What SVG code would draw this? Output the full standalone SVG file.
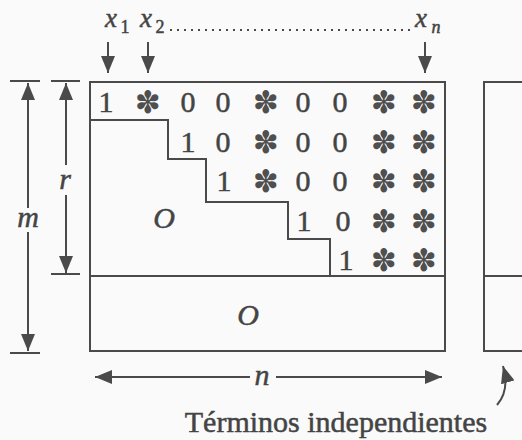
<svg xmlns="http://www.w3.org/2000/svg" width="522" height="440" viewBox="0 0 522 440">
<defs>
<style>
.ln{stroke:#4a4a4a;stroke-width:2;fill:none}
.t{font-family:"Liberation Serif","Times New Roman",serif;fill:#444;stroke:#444;stroke-width:0.5;font-size:30px;text-anchor:middle}
.it{font-style:italic}
.ast{font-family:"DejaVu Sans",sans-serif;fill:#4f4f4f;font-size:31px;text-anchor:middle}
.sub{font-size:18px}
</style>
<marker id="ah" markerUnits="userSpaceOnUse" markerWidth="18" markerHeight="14" refX="17" refY="7" orient="auto">
<path d="M0,0 L17,7 L0,14 Z" fill="#4a4a4a"/>
</marker>
</defs>
<rect width="522" height="440" fill="#fafafa"/>

<g id="matrix">
<rect class="ln" x="90" y="82" width="355" height="269"/>
<line class="ln" x1="90" y1="276" x2="445" y2="276"/>
<polyline class="ln" points="90,120 168,120 168,159 206,159 206,202 288,202 288,239 330,239 330,276"/>
<g class="t">
<text x="106" y="112">1</text><text x="188" y="112">0</text><text x="223" y="112">0</text><text x="303" y="112">0</text><text x="340" y="112">0</text>
<text x="188" y="152">1</text><text x="223" y="152">0</text><text x="303" y="152">0</text><text x="340" y="152">0</text>
<text x="224" y="191">1</text><text x="303" y="191">0</text><text x="340" y="191">0</text>
<text x="304" y="231">1</text><text x="343" y="231">0</text>
<text x="346" y="270">1</text>
<text class="it" x="164" y="228">O</text>
<text class="it" x="248" y="325">O</text>
</g>
<g class="ast">
<text x="148" y="113">✽</text><text x="266" y="113">✽</text><text x="384" y="113">✽</text><text x="424" y="113">✽</text>
<text x="266" y="153">✽</text><text x="384" y="153">✽</text><text x="424" y="153">✽</text>
<text x="266" y="192">✽</text><text x="384" y="192">✽</text><text x="424" y="192">✽</text>
<text x="384" y="232">✽</text><text x="424" y="232">✽</text>
<text x="384" y="271">✽</text><text x="424" y="271">✽</text>
</g>
</g>

<g id="rhs">
<polyline class="ln" points="524,82 484,82 484,351 524,351"/>
<line class="ln" x1="484" y1="276" x2="524" y2="276"/>
</g>

<g id="col-labels" class="t it" style="font-size:27px">
<text x="111" y="27">x</text><text class="sub" style="font-style:normal" x="125" y="33">1</text>
<text x="146" y="27">x</text><text class="sub" style="font-style:normal" x="160" y="33">2</text>
<text x="421" y="27">x</text><text class="sub" x="436" y="33">n</text>
</g>

<g id="dim-labels" class="t it">
<text x="28" y="227">m</text>
<text x="65" y="189">r</text>
<text x="262" y="385">n</text>
</g>

<text id="caption" class="t" x="336" y="432">Términos independientes</text>

<g id="connectors">
<line class="ln" x1="170" y1="30" x2="412" y2="30" stroke-dasharray="2 5"/>
<line class="ln" x1="108" y1="42" x2="108" y2="73" marker-end="url(#ah)"/>
<line class="ln" x1="148" y1="42" x2="148" y2="73" marker-end="url(#ah)"/>
<line class="ln" x1="425" y1="42" x2="425" y2="73" marker-end="url(#ah)"/>
<line class="ln" x1="10" y1="81" x2="40" y2="81"/>
<line class="ln" x1="51" y1="81" x2="80" y2="81"/>
<line class="ln" x1="51" y1="274" x2="80" y2="274"/>
<line class="ln" x1="10" y1="353" x2="40" y2="353"/>
<line class="ln" x1="28" y1="208" x2="28" y2="83" marker-end="url(#ah)"/>
<line class="ln" x1="28" y1="232" x2="28" y2="351" marker-end="url(#ah)"/>
<line class="ln" x1="66" y1="165" x2="66" y2="83" marker-end="url(#ah)"/>
<line class="ln" x1="66" y1="195" x2="66" y2="273" marker-end="url(#ah)"/>
<line class="ln" x1="250" y1="377" x2="95" y2="377" marker-end="url(#ah)"/>
<line class="ln" x1="276" y1="377" x2="442" y2="377" marker-end="url(#ah)"/>
<path class="ln" d="M497,405 Q510,390 503,366" marker-end="url(#ah)"/>
</g>
</svg>
